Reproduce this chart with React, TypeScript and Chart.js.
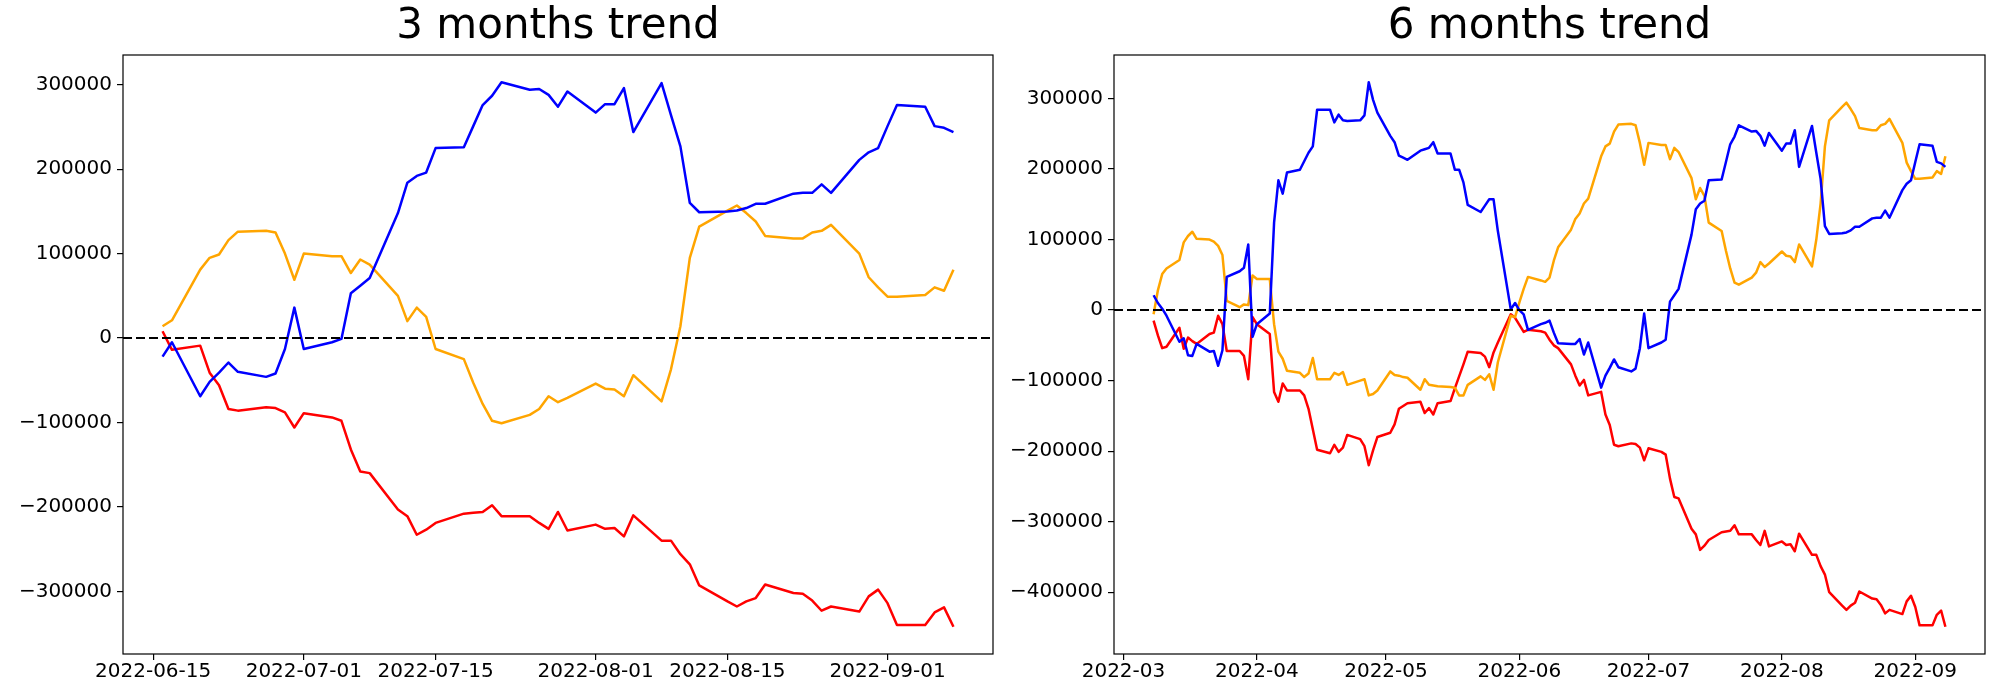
import React, { useEffect, useRef } from "react";
import { Chart, registerables } from "chart.js";

Chart.register(...registerables);

const FONT = "'DejaVu Sans', 'Liberation Sans', sans-serif";
Chart.defaults.font.family = FONT;

// ---------- 3 months trend ----------
const datesLeft = [
  "2022-06-16", "2022-06-17",
  "2022-06-20", "2022-06-21", "2022-06-22", "2022-06-23", "2022-06-24",
  "2022-06-27", "2022-06-28", "2022-06-29", "2022-06-30", "2022-07-01",
  "2022-07-04", "2022-07-05", "2022-07-06", "2022-07-07", "2022-07-08",
  "2022-07-11", "2022-07-12", "2022-07-13", "2022-07-14", "2022-07-15",
  "2022-07-18", "2022-07-19", "2022-07-20", "2022-07-21", "2022-07-22",
  "2022-07-25", "2022-07-26", "2022-07-27", "2022-07-28", "2022-07-29",
  "2022-08-01", "2022-08-02", "2022-08-03", "2022-08-04", "2022-08-05",
  "2022-08-08", "2022-08-09", "2022-08-10", "2022-08-11", "2022-08-12",
  "2022-08-15", "2022-08-16", "2022-08-17", "2022-08-18", "2022-08-19",
  "2022-08-22", "2022-08-23", "2022-08-24", "2022-08-25", "2022-08-26",
  "2022-08-29", "2022-08-30", "2022-08-31", "2022-09-01", "2022-09-02",
  "2022-09-05", "2022-09-06", "2022-09-07", "2022-09-08",
];

const blueLeft = [
  -22000, -5000,
  -69000, -52000, -41000, -29000, -40000,
  -46000, -42000, -13000, 36000, -13000,
  -5000, -1000, 53000, 62000, 71000,
  148000, 184000, 192000, 196000, 225000,
  226000, 251000, 276000, 287000, 303000,
  294000, 295000, 288000, 274000, 292000,
  267000, 277000, 277000, 296000, 244000,
  302000, 264000, 227000, 160000, 149000,
  150000, 151000, 154000, 159000, 159000,
  171000, 172000, 172000, 182000, 172000,
  211000, 220000, 225000, 251000, 276000,
  274000, 251000, 249000, 244000,
];

const orangeLeft = [
  14000, 21000,
  81000, 95000, 99000, 116000, 126000,
  127000, 125000, 100000, 69000, 100000,
  97000, 97000, 77000, 93000, 87000,
  50000, 20000, 36000, 25000, -13000,
  -25000, -53000, -78000, -98000, -101000,
  -91000, -84000, -69000, -76000, -71000,
  -54000, -60000, -61000, -69000, -44000,
  -75000, -37000, 14000, 95000, 132000,
  151000, 157000, 148000, 138000, 121000,
  118000, 118000, 125000, 127000, 134000,
  100000, 72000, 60000, 49000, 49000,
  51000, 60000, 56000, 81000,
];

const redLeft = [
  8000, -14000,
  -9000, -41000, -56000, -84000, -86000,
  -82000, -83000, -88000, -106000, -89000,
  -94000, -98000, -132000, -158000, -160000,
  -203000, -211000, -233000, -227000, -219000,
  -208000, -207000, -206000, -198000, -211000,
  -211000, -219000, -226000, -206000, -228000,
  -221000, -226000, -225000, -235000, -210000,
  -240000, -240000, -256000, -268000, -293000,
  -312000, -318000, -312000, -308000, -292000,
  -302000, -303000, -311000, -323000, -318000,
  -324000, -306000, -298000, -314000, -340000,
  -340000, -325000, -319000, -342000,
];

const yTicksLeft = [-300000, -200000, -100000, 0, 100000, 200000, 300000];
const xTickDatesLeft = ["2022-06-15", "2022-07-01", "2022-07-15", "2022-08-01", "2022-08-15", "2022-09-01"];
const xTickLabelsLeft = ["2022-06-15", "2022-07-01", "2022-07-15", "2022-08-01", "2022-08-15", "2022-09-01"];

// ---------- 6 months trend ----------
const datesRightEarly = [
  "2022-03-08", "2022-03-09", "2022-03-10", "2022-03-11",
  "2022-03-14", "2022-03-15", "2022-03-16", "2022-03-17", "2022-03-18",
  "2022-03-21", "2022-03-22", "2022-03-23", "2022-03-24", "2022-03-25",
  "2022-03-28", "2022-03-29", "2022-03-30", "2022-03-31", "2022-04-01",
  "2022-04-04", "2022-04-05", "2022-04-06", "2022-04-07", "2022-04-08",
  "2022-04-11", "2022-04-12", "2022-04-13", "2022-04-14", "2022-04-15",
  "2022-04-18", "2022-04-19", "2022-04-20", "2022-04-21", "2022-04-22",
  "2022-04-25", "2022-04-26", "2022-04-27", "2022-04-28", "2022-04-29",
  "2022-05-02", "2022-05-03", "2022-05-04", "2022-05-05", "2022-05-06",
  "2022-05-09", "2022-05-10", "2022-05-11", "2022-05-12", "2022-05-13",
  "2022-05-16", "2022-05-17", "2022-05-18", "2022-05-19", "2022-05-20",
  "2022-05-23", "2022-05-24", "2022-05-25", "2022-05-26", "2022-05-27",
  "2022-05-30", "2022-05-31", "2022-06-01", "2022-06-02", "2022-06-03",
  "2022-06-06", "2022-06-07", "2022-06-08", "2022-06-09", "2022-06-10",
  "2022-06-13", "2022-06-14", "2022-06-15",
];
const datesRight = [...datesRightEarly, ...datesLeft];

const blueRight = [
  21000, 10000, 2000, -8000,
  -45000, -40000, -64000, -65000, -48000,
  -59000, -58000, -79000, -57000, 47000,
  55000, 60000, 93000, -38000, -20000,
  -5000, 124000, 184000, 165000, 195000,
  199000, 211000, 223000, 232000, 284000,
  284000, 266000, 277000, 269000, 268000,
  269000, 276000, 323000, 298000, 280000,
  247000, 238000, 219000, 216000, 213000,
  226000, 228000, 230000, 238000, 222000,
  222000, 199000, 199000, 181000, 149000,
  139000, 148000, 157000, 157000, 112000,
  1000, 10000, 0, -6000, -28000,
  -20000, -18000, -15000, -32000, -47000,
  -48000, -48000, -41000,
  -63000, -46000,
  -110000, -93000, -82000, -70000, -81000,
  -87000, -83000, -54000, -5000, -54000,
  -46000, -42000, 12000, 21000, 30000,
  107000, 143000, 151000, 155000, 184000,
  185000, 210000, 235000, 246000, 262000,
  253000, 254000, 247000, 233000, 251000,
  226000, 236000, 236000, 255000, 203000,
  261000, 223000, 186000, 119000, 108000,
  109000, 110000, 113000, 118000, 118000,
  130000, 131000, 131000, 141000, 131000,
  170000, 179000, 184000, 210000, 235000,
  233000, 210000, 208000, 203000,
];

const orangeRight = [
  -6000, 28000, 51000, 59000,
  71000, 96000, 105000, 111000, 101000,
  100000, 97000, 91000, 78000, 13000,
  4000, 8000, 7000, 49000, 44000,
  44000, -20000, -59000, -69000, -86000,
  -89000, -95000, -90000, -68000, -98000,
  -98000, -89000, -92000, -88000, -106000,
  -100000, -98000, -121000, -119000, -114000,
  -87000, -92000, -93000, -95000, -96000,
  -113000, -98000, -106000, -107000, -108000,
  -109000, -110000, -121000, -121000, -106000,
  -94000, -99000, -91000, -113000, -74000,
  -8000, -10000, 11000, 30000, 47000,
  42000, 40000, 46000, 70000, 89000,
  114000, 129000, 137000,
  151000, 158000,
  218000, 232000, 236000, 253000, 263000,
  264000, 262000, 237000, 206000, 237000,
  234000, 234000, 214000, 230000, 224000,
  187000, 157000, 173000, 162000, 124000,
  112000, 84000, 59000, 39000, 36000,
  46000, 53000, 68000, 61000, 66000,
  83000, 77000, 76000, 68000, 93000,
  62000, 100000, 151000, 232000, 269000,
  288000, 294000, 285000, 275000, 258000,
  255000, 255000, 262000, 264000, 271000,
  237000, 209000, 197000, 186000, 186000,
  188000, 197000, 193000, 218000,
];

const redRight = [
  -15000, -36000, -54000, -52000,
  -25000, -55000, -39000, -44000, -48000,
  -34000, -32000, -8000, -20000, -58000,
  -58000, -65000, -98000, -10000, -20000,
  -34000, -116000, -130000, -104000, -114000,
  -114000, -121000, -140000, -169000, -198000,
  -203000, -191000, -201000, -195000, -177000,
  -183000, -193000, -220000, -199000, -180000,
  -174000, -162000, -140000, -136000, -132000,
  -130000, -146000, -139000, -148000, -132000,
  -129000, -111000, -94000, -77000, -59000,
  -61000, -66000, -81000, -60000, -46000,
  -6000, -11000, -21000, -31000, -28000,
  -30000, -32000, -42000, -50000, -54000,
  -77000, -93000, -107000,
  -99000, -121000,
  -116000, -148000, -163000, -191000, -193000,
  -189000, -190000, -195000, -213000, -196000,
  -201000, -205000, -239000, -265000, -267000,
  -310000, -318000, -340000, -334000, -326000,
  -315000, -314000, -313000, -305000, -318000,
  -318000, -326000, -333000, -313000, -335000,
  -328000, -333000, -332000, -342000, -317000,
  -347000, -347000, -363000, -375000, -400000,
  -419000, -425000, -419000, -415000, -399000,
  -409000, -410000, -418000, -430000, -425000,
  -431000, -413000, -405000, -421000, -447000,
  -447000, -432000, -426000, -449000,
];

const yTicksRight = [-400000, -300000, -200000, -100000, 0, 100000, 200000, 300000];
const xTickDatesRight = ["2022-03-01", "2022-04-01", "2022-05-01", "2022-06-01", "2022-07-01", "2022-08-01", "2022-09-01"];
const xTickLabelsRight = ["2022-03", "2022-04", "2022-05", "2022-06", "2022-07", "2022-08", "2022-09"];

// ---------- helpers ----------
function toMs(s: string): number {
  return Date.parse(s + "T00:00:00Z");
}

function fmtY(v: number): string {
  return v < 0 ? "\u2212" + String(-v) : String(v);
}

type Cfg = {
  title: string;
  dates: string[];
  blue: number[];
  orange: number[];
  red: number[];
  yTicks: number[];
  xTickDates: string[];
  xTickLabels: string[];
  axisWidth: number;
  padRight: number;
};

const framePlugin = {
  id: "frame",
  afterDatasetsDraw(chart: any) {
    const { ctx, chartArea: a } = chart;
    ctx.save();
    ctx.strokeStyle = "#000";
    ctx.lineWidth = 1.2;
    ctx.strokeRect(a.left, a.top, a.right - a.left, a.bottom - a.top);
    ctx.restore();
  },
};

function TrendChart({ cfg, left }: { cfg: Cfg; left: number }) {
  const ref = useRef<HTMLCanvasElement>(null);

  useEffect(() => {
    if (!ref.current) return;
    const xs = cfg.dates.map(toMs);
    const x0 = xs[0];
    const x1 = xs[xs.length - 1];
    const xm = (x1 - x0) * 0.05;
    const all = [...cfg.blue, ...cfg.orange, ...cfg.red];
    const ymin = Math.min(...all);
    const ymax = Math.max(...all);
    const ym = (ymax - ymin) * 0.05;

    const mk = (vals: number[]) => vals.map((v, i) => ({ x: xs[i], y: v }));

    const tickFont = { size: 20, family: FONT };
    const gridOpts = {
      display: true,
      drawOnChartArea: false,
      drawTicks: true,
      tickLength: 6,
      color: "#000",
      lineWidth: 1.2,
    };
    const lineCommon = {
      borderWidth: 2.5,
      pointRadius: 0,
      fill: false,
      tension: 0,
      borderJoinStyle: "round",
    };

    const chart = new Chart(ref.current, {
      type: "line",
      data: {
        datasets: [
          {
            label: "zero",
            data: [
              { x: x0 - xm, y: 0 },
              { x: x1 + xm, y: 0 },
            ],
            borderColor: "#000",
            borderWidth: 2,
            borderDash: [9, 4],
            pointRadius: 0,
            fill: false,
            order: 0,
          },
          { label: "blue", data: mk(cfg.blue), borderColor: "#0000ff", order: 1, ...lineCommon },
          { label: "orange", data: mk(cfg.orange), borderColor: "#ffa500", order: 2, ...lineCommon },
          { label: "red", data: mk(cfg.red), borderColor: "#ff0000", order: 3, ...lineCommon },
        ],
      },
      options: {
        responsive: false,
        maintainAspectRatio: false,
        animation: false,
        devicePixelRatio: 1,
        events: [],
        layout: { padding: { left: 0, right: cfg.padRight, top: 0, bottom: 0 } },
        plugins: {
          legend: { display: false },
          tooltip: { enabled: false },
          title: {
            display: true,
            text: cfg.title,
            color: "#000",
            font: { size: 42, family: FONT, weight: "normal", lineHeight: 1.2 },
            padding: { top: 1.5, bottom: 3.1 },
            fullSize: false,
          },
        },
        scales: {
          x: {
            type: "linear",
            min: x0 - xm,
            max: x1 + xm,
            afterBuildTicks: (s: any) => {
              s.ticks = cfg.xTickDates.map((d) => ({ value: toMs(d) }));
            },
            afterFit: (s: any) => {
              s.height = 46;
            },
            ticks: {
              autoSkip: false,
              maxRotation: 0,
              color: "#000",
              font: tickFont,
              padding: 0,
              callback: (_v: any, i: number) => cfg.xTickLabels[i],
            },
            grid: gridOpts,
            border: { display: false },
          },
          y: {
            type: "linear",
            min: ymin - ym,
            max: ymax + ym,
            afterBuildTicks: (s: any) => {
              s.ticks = cfg.yTicks.map((v) => ({ value: v }));
            },
            afterFit: (s: any) => {
              s.width = cfg.axisWidth;
            },
            ticks: {
              autoSkip: false,
              color: "#000",
              font: tickFont,
              padding: 5,
              callback: (v: any) => fmtY(Number(v)),
            },
            grid: gridOpts,
            border: { display: false },
          },
        },
      } as any,
      plugins: [framePlugin],
    });

    return () => chart.destroy();
  }, [cfg]);

  return (
    <canvas
      ref={ref}
      width={1000}
      height={700}
      style={{ position: "absolute", left, top: 0, width: 1000, height: 700 }}
    />
  );
}

const leftCfg: Cfg = {
  title: "3 months trend",
  dates: datesLeft,
  blue: blueLeft,
  orange: orangeLeft,
  red: redLeft,
  yTicks: yTicksLeft,
  xTickDates: xTickDatesLeft,
  xTickLabels: xTickLabelsLeft,
  axisWidth: 123,
  padRight: 7,
};

const rightCfg: Cfg = {
  title: "6 months trend",
  dates: datesRight,
  blue: blueRight,
  orange: orangeRight,
  red: redRight,
  yTicks: yTicksRight,
  xTickDates: xTickDatesRight,
  xTickLabels: xTickLabelsRight,
  axisWidth: 114,
  padRight: 15,
};

export default function App() {
  return (
    <div
      style={{
        position: "absolute",
        left: 0,
        top: 0,
        width: 2000,
        height: 700,
        background: "#fff",
        overflow: "hidden",
      }}
    >
      <TrendChart cfg={leftCfg} left={0} />
      <TrendChart cfg={rightCfg} left={1000} />
    </div>
  );
}
